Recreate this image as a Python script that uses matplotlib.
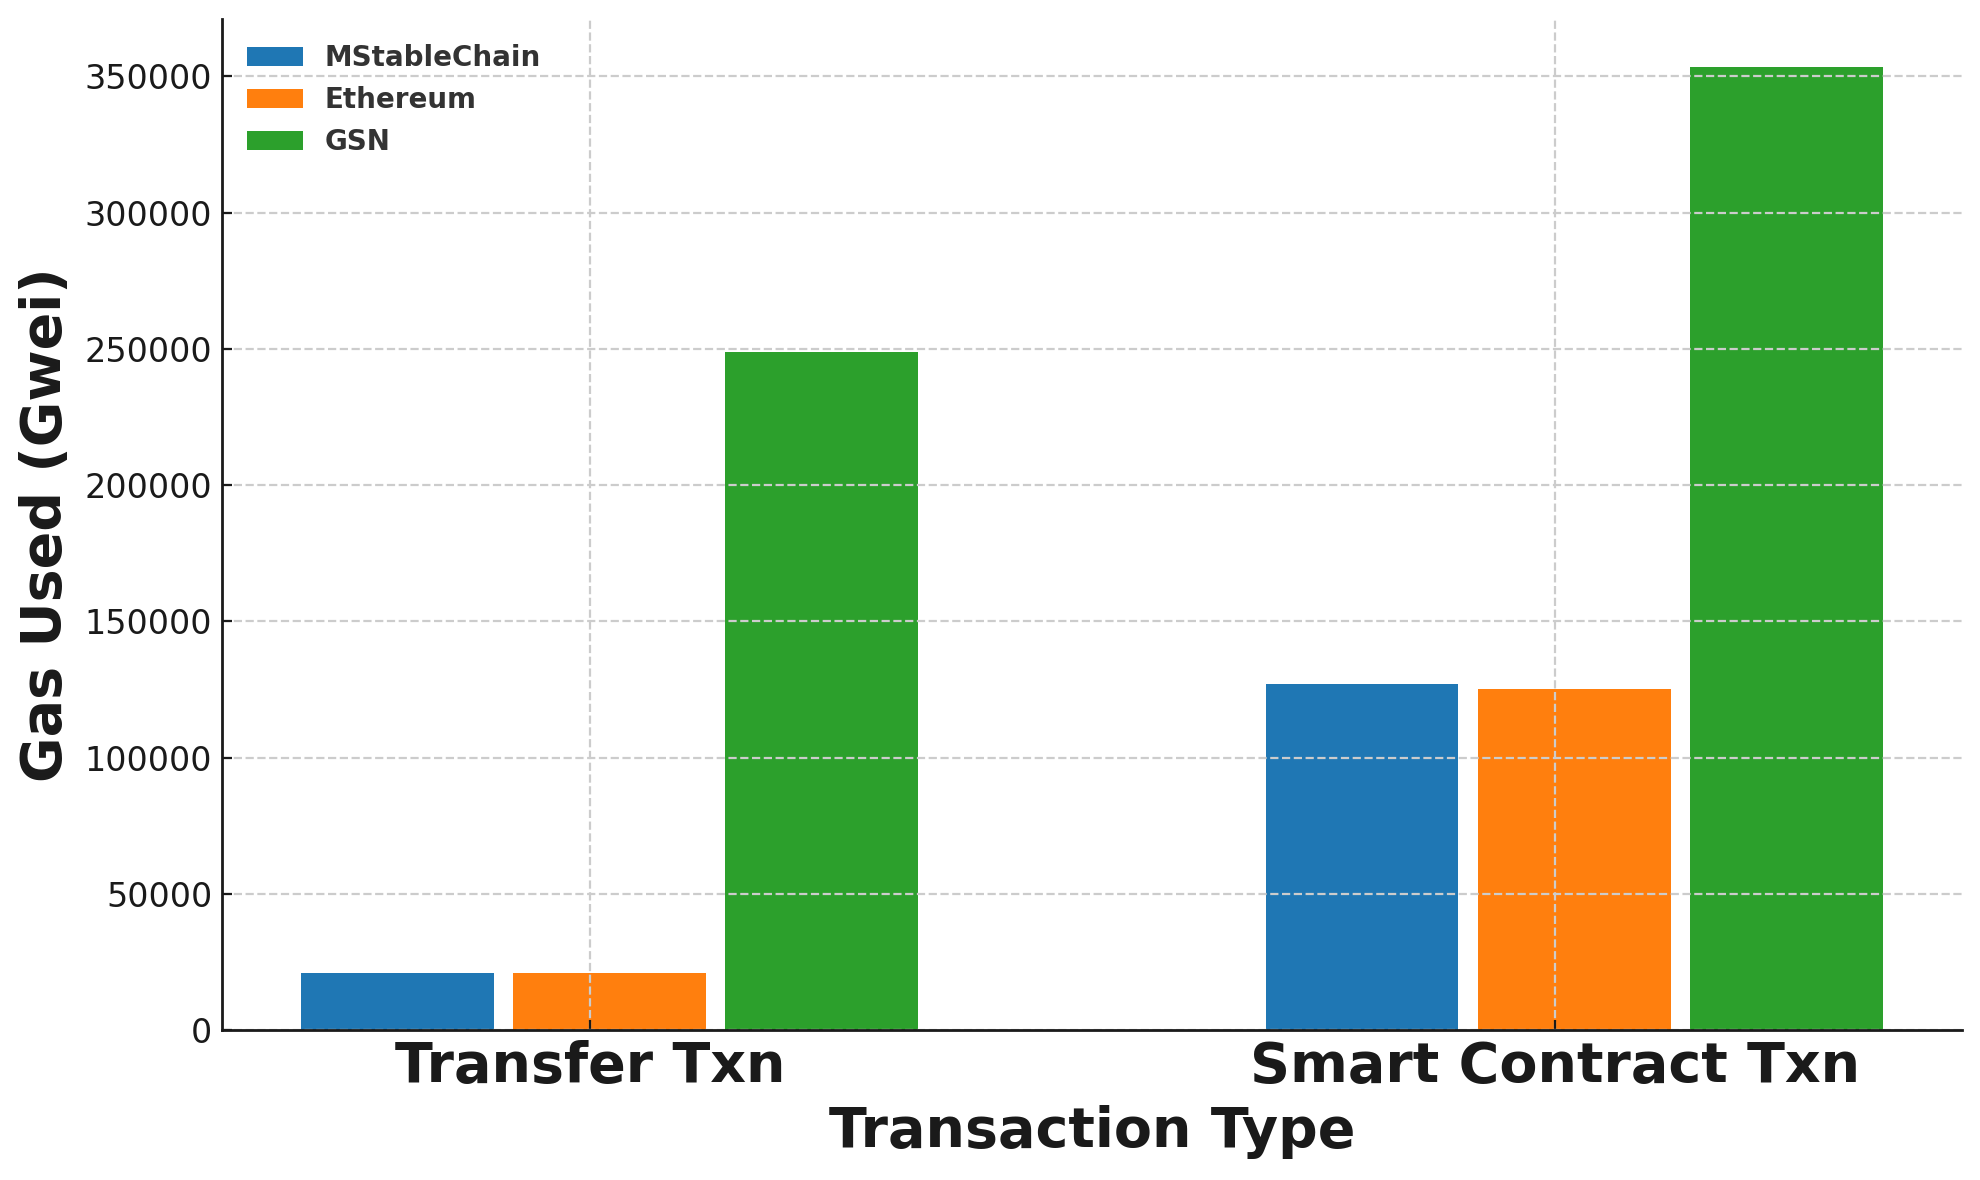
import numpy as np
import matplotlib.pyplot as plt

# ============================================================
# DATA
# ============================================================

categories = ["Transfer Txn", "Smart Contract Txn"]

series_names = ["MStableChain", "Ethereum", "GSN"]

mstable_gas = [21000, 127000]
ethereum_gas = [21000, 125200]
gsn_gas = [248900, 353300]

colors = ["#1f77b4", "#ff7f0e", "#2ca02c"]

# ============================================================
# PLOT
# ============================================================

x = np.arange(len(categories))

width = 0.2
offsets = [-0.2, 0.02, 0.24]

fig = plt.figure(figsize=(9.9, 5.9), dpi=200)
ax = fig.add_axes([0.1121, 0.1271, 0.9909 - 0.1121, 0.9836 - 0.1271])

for name, vals, off, col in zip(
    series_names,
    [mstable_gas, ethereum_gas, gsn_gas],
    offsets,
    colors
):
    ax.bar(x + off, vals, width, label=name, color=col)

ax.set_xticks(x)
ax.set_xticklabels(categories, fontsize=20, fontweight="bold", color="#1a1a1a")

ax.tick_params(axis="y", labelsize=12, labelcolor="#1a1a1a")
ax.tick_params(direction="in", color="#1a1a1a")

ax.set_xlabel("Transaction Type", fontsize=20, fontweight="bold", color="#1a1a1a")
ax.set_ylabel("Gas Used (Gwei)", fontsize=20, fontweight="bold", color="#1a1a1a")

ax.grid(True, linestyle="--", linewidth=0.8, color="#cccccc")
ax.set_axisbelow(False)

ax.spines["top"].set_visible(False)
ax.spines["right"].set_visible(False)
for side in ["left", "bottom"]:
    ax.spines[side].set_color("#1a1a1a")
    ax.spines[side].set_linewidth(1.0)
    ax.spines[side].set_zorder(5)

leg = ax.legend(loc="upper left", frameon=False, prop={"size": 10, "weight": "bold"})
for t in leg.get_texts():
    t.set_color("#333333")

fig.savefig("out.png", dpi=200)
